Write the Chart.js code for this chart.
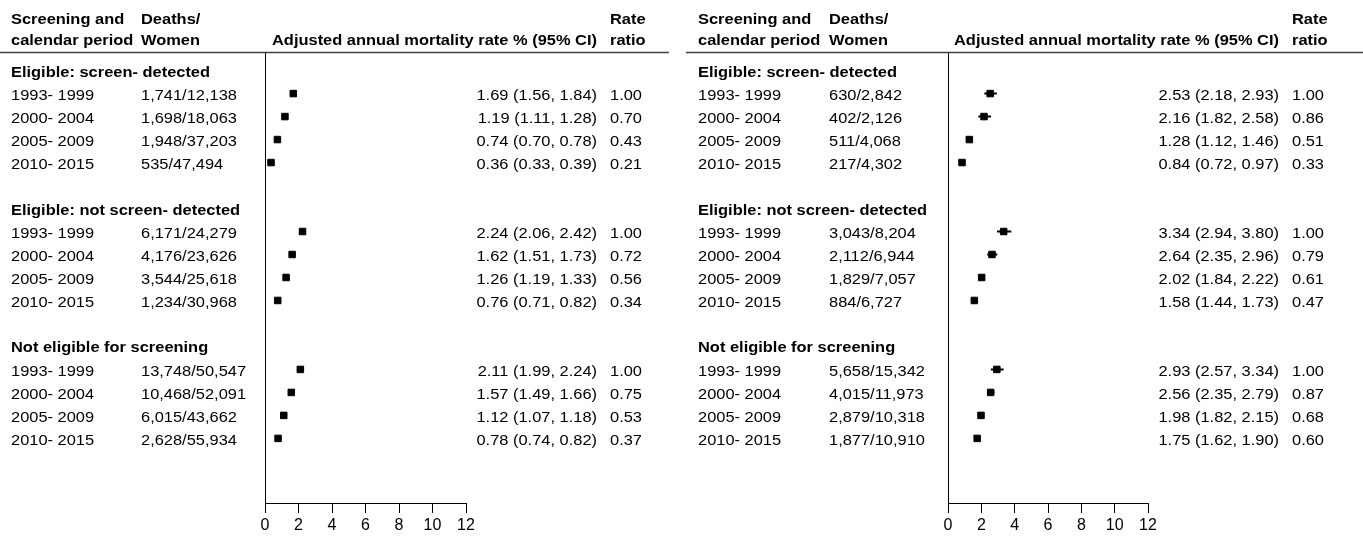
<!DOCTYPE html>
<html>
<head>
<meta charset="utf-8">
<script src="https://cdn.jsdelivr.net/npm/chart.js@4.4.1/dist/chart.umd.min.js"></script>
<style>
  html, body { margin: 0; padding: 0; background: #fff; }
  #wrap { position: relative; width: 1363px; height: 538px; }
  canvas { position: absolute; top: 0; }
</style>
</head>
<body>
<div id="wrap">
  <canvas id="leftChart" width="681" height="538" style="left:0px"></canvas>
  <canvas id="rightChart" width="682" height="538" style="left:681px"></canvas>
</div>
<script>
// table contents
var groups = ['Eligible: screen- detected', 'Eligible: not screen- detected', 'Not eligible for screening'];
var periods = ['1993- 1999', '2000- 2004', '2005- 2009', '2010- 2015'];
var xTicks = [0, 2, 4, 6, 8, 10, 12];

// left panel
var leftDeaths = ['1,741/12,138', '1,698/18,063', '1,948/37,203', '535/47,494',
                  '6,171/24,279', '4,176/23,626', '3,544/25,618', '1,234/30,968',
                  '13,748/50,547', '10,468/52,091', '6,015/43,662', '2,628/55,934'];
var leftRate  = [1.69, 1.19, 0.74, 0.36, 2.24, 1.62, 1.26, 0.76, 2.11, 1.57, 1.12, 0.78];
var leftLow   = [1.56, 1.11, 0.70, 0.33, 2.06, 1.51, 1.19, 0.71, 1.99, 1.49, 1.07, 0.74];
var leftHigh  = [1.84, 1.28, 0.78, 0.39, 2.42, 1.73, 1.33, 0.82, 2.24, 1.66, 1.18, 0.82];
var leftRatio = [1.00, 0.70, 0.43, 0.21, 1.00, 0.72, 0.56, 0.34, 1.00, 0.75, 0.53, 0.37];

// right panel
var rightDeaths = ['630/2,842', '402/2,126', '511/4,068', '217/4,302',
                   '3,043/8,204', '2,112/6,944', '1,829/7,057', '884/6,727',
                   '5,658/15,342', '4,015/11,973', '2,879/10,318', '1,877/10,910'];
var rightRate  = [2.53, 2.16, 1.28, 0.84, 3.34, 2.64, 2.02, 1.58, 2.93, 2.56, 1.98, 1.75];
var rightLow   = [2.18, 1.82, 1.12, 0.72, 2.94, 2.35, 1.84, 1.44, 2.57, 2.35, 1.82, 1.62];
var rightHigh  = [2.93, 2.58, 1.46, 0.97, 3.80, 2.96, 2.22, 1.73, 3.34, 2.79, 2.15, 1.90];
var rightRatio = [1.00, 0.86, 0.51, 0.33, 1.00, 0.79, 0.61, 0.47, 1.00, 0.87, 0.68, 0.60];

var FONT = '"Liberation Sans", Arial, Helvetica, sans-serif';
var SX = 1.06; // text in the source is a bit wider than plain Arial

function rowOf(i) { return Math.floor(i / 4) * 6 + 1 + (i % 4); }

function txt(ctx, s, x, y, align, bold) {
  ctx.save();
  ctx.font = (bold ? 'bold ' : '') + '15.5px ' + FONT;
  ctx.fillStyle = '#000';
  ctx.textBaseline = 'alphabetic';
  ctx.textAlign = align || 'left';
  ctx.translate(x, y);
  ctx.scale(SX, 1);
  ctx.fillText(s, 0, 0);
  ctx.restore();
}

function makePanel(id, deaths, rate, low, high, ratio, pos) {
  var ciData = [];
  var ptData = [];
  for (var i = 0; i < rate.length; i++) {
    var r = rowOf(i);
    ciData.push({x: low[i], y: r}, {x: high[i], y: r}, {x: null, y: null});
    ptData.push({x: rate[i], y: r});
  }

  var tablePlugin = {
    id: 'table',
    afterDraw: function(chart) {
      var ctx = chart.ctx;
      var y = chart.scales.y;
      // header
      txt(ctx, 'Screening and', pos.c1, 24, 'left', true);
      txt(ctx, 'calendar period', pos.c1, 45, 'left', true);
      txt(ctx, 'Deaths/', pos.c2, 24, 'left', true);
      txt(ctx, 'Women', pos.c2, 45, 'left', true);
      txt(ctx, 'Adjusted annual mortality rate % (95% CI)', pos.ci, 45, 'right', true);
      txt(ctx, 'Rate', pos.rr, 24, 'left', true);
      txt(ctx, 'ratio', pos.rr, 45, 'left', true);
      ctx.save();
      ctx.strokeStyle = '#404040';
      ctx.lineWidth = 1.5;
      ctx.beginPath();
      ctx.moveTo(pos.lineL, 52.5);
      ctx.lineTo(pos.lineR, 52.5);
      ctx.stroke();
      ctx.restore();
      // groups and rows
      for (var g = 0; g < groups.length; g++) {
        txt(ctx, groups[g], pos.c1, y.getPixelForValue(g * 6) + 6, 'left', true);
      }
      for (var i = 0; i < rate.length; i++) {
        var py = y.getPixelForValue(rowOf(i)) + 6.5;
        txt(ctx, periods[i % 4], pos.c1, py, 'left', false);
        txt(ctx, deaths[i], pos.c2, py, 'left', false);
        txt(ctx, rate[i].toFixed(2) + ' (' + low[i].toFixed(2) + ', ' + high[i].toFixed(2) + ')', pos.ci, py, 'right', false);
        txt(ctx, ratio[i].toFixed(2), pos.rr, py, 'left', false);
      }
    }
  };

  return new Chart(document.getElementById(id), {
    type: 'scatter',
    data: {
      datasets: [{
        data: ciData,
        showLine: true,
        spanGaps: false,
        borderColor: '#000',
        borderWidth: 2,
        pointRadius: 0
      }, {
        data: ptData,
        pointStyle: 'rect',
        pointRadius: 4.6,
        pointBorderWidth: 1,
        backgroundColor: '#000',
        borderColor: '#000'
      }]
    },
    options: {
      responsive: false,
      animation: false,
      devicePixelRatio: 1,
      layout: { padding: { left: pos.axisL, right: pos.axisR, top: 53, bottom: 0 } },
      plugins: { legend: { display: false }, tooltip: { enabled: false } },
      scales: {
        x: {
          type: 'linear',
          min: 0, max: 12,
          afterBuildTicks: function(s) { s.ticks = xTicks.map(function(v) { return {value: v}; }); },
          afterFit: function(s) { s.height = 35; },
          grid: { display: true, drawOnChartArea: false, drawTicks: true, tickLength: 10, color: '#000' },
          border: { display: true, color: '#000', width: 1 },
          ticks: { color: '#000', padding: 3, maxRotation: 0, font: { family: FONT, size: 16 } }
        },
        y: {
          type: 'linear',
          min: -0.765, max: 18.81,
          reverse: true,
          afterFit: function(s) { s.width = 0; },
          grid: { display: false },
          border: { display: true, color: '#000', width: 1 },
          ticks: { display: false }
        }
      }
    },
    plugins: [tablePlugin]
  });
}

makePanel('leftChart', leftDeaths, leftRate, leftLow, leftHigh, leftRatio,
  {c1: 11, c2: 141, ci: 597, rr: 610, lineL: 0, lineR: 669, axisL: 265, axisR: 215});
makePanel('rightChart', rightDeaths, rightRate, rightLow, rightHigh, rightRatio,
  {c1: 17, c2: 148, ci: 598, rr: 611, lineL: 5, lineR: 682, axisL: 267, axisR: 215});
</script>
</body>
</html>
